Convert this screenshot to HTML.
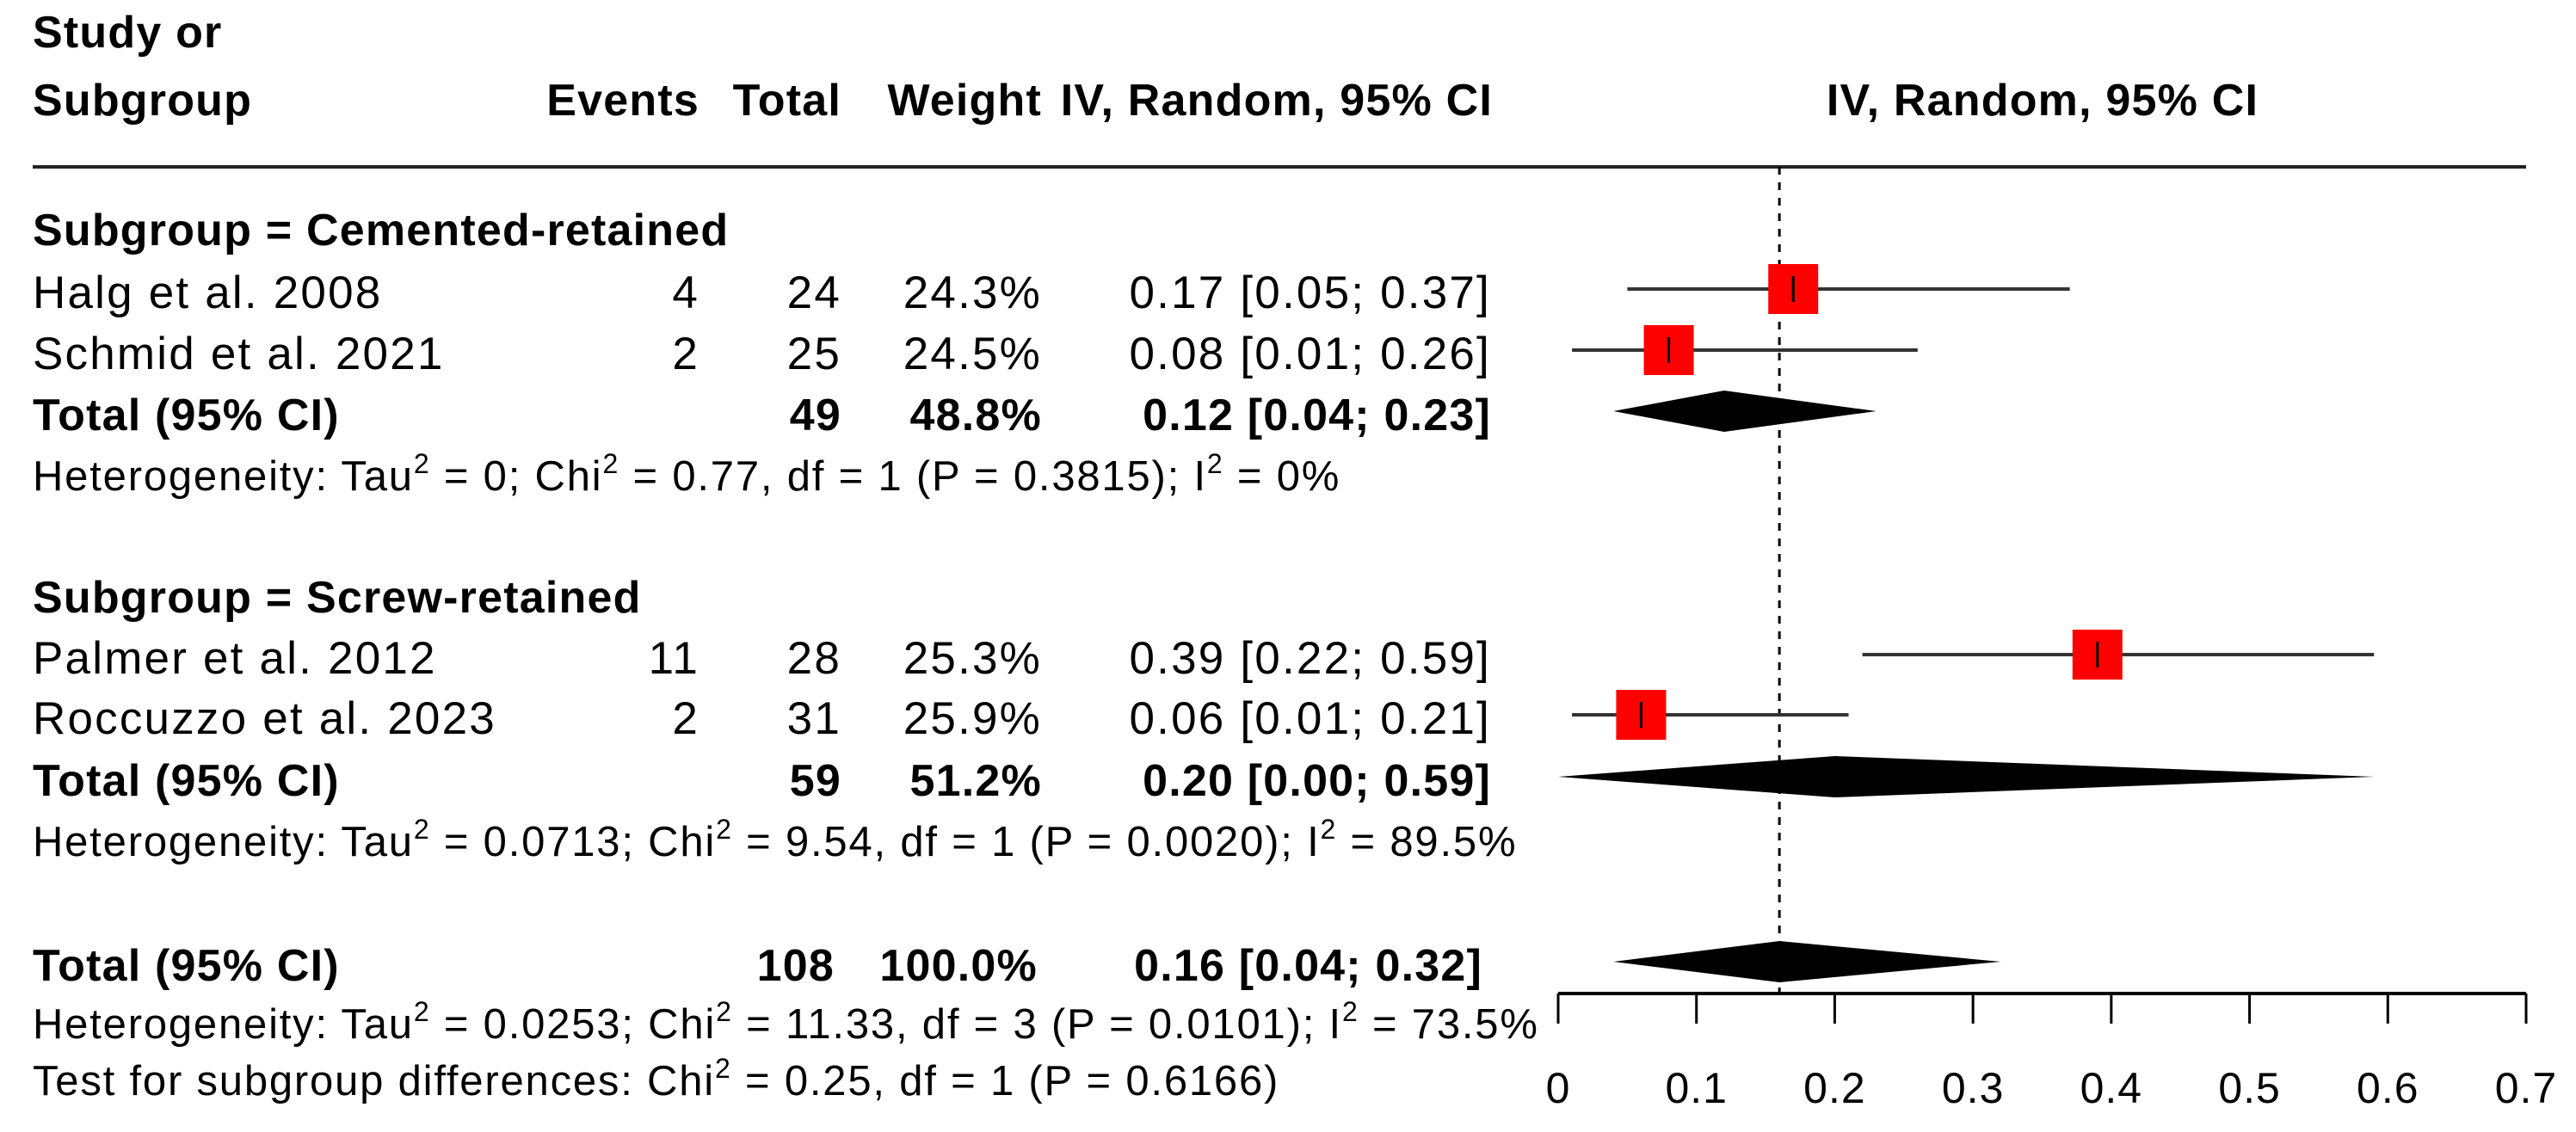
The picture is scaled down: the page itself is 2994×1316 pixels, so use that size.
<!DOCTYPE html>
<html><head><meta charset="utf-8"><style>
html,body{margin:0;padding:0;background:#fff}
svg{display:block}
text{font-family:"Liberation Sans",Arial,sans-serif;font-size:53px;letter-spacing:2.2px;fill:#000}
.b{font-weight:bold;font-size:52px;letter-spacing:1.2px}
.s{font-size:49px;letter-spacing:1.8px}
.t{font-size:50px;letter-spacing:1px}
</style></head><body>
<svg id="chart" width="2994" height="1316" viewBox="0 0 2994 1316" xmlns="http://www.w3.org/2000/svg">
<g>
<text class="b" x="38" y="55">Study or</text>
<text class="b" x="38" y="134">Subgroup</text>
<text class="b" x="813" y="134" text-anchor="end">Events</text>
<text class="b" x="978" y="134" text-anchor="end">Total</text>
<text class="b" x="1211" y="134" text-anchor="end">Weight</text>
<text class="b" x="1735" y="134" text-anchor="end">IV, Random, 95% CI</text>
<text class="b" x="2374" y="134" text-anchor="middle">IV, Random, 95% CI</text>
</g>
<line x1="38" y1="194" x2="2936" y2="194" stroke="#222" stroke-width="4"/>
<g id="rows"></g>
<g id="plot"></g>
</svg>
<script>
const studies=["Halg et al. 2008","Schmid et al. 2021","Palmer et al. 2012","Roccuzzo et al. 2023"];
const events=[4,2,11,2];
const totals=[24,25,28,31];
const weights=["24.3%","24.5%","25.3%","25.9%"];
const est=[0.17,0.08,0.39,0.06];
const lower=[0.05,0.01,0.22,0.01];
const upper=[0.37,0.26,0.59,0.21];
const pooledLabels=["Total (95% CI)","Total (95% CI)","Total (95% CI)"];
const pooledN=[49,59,108];
const pooledW=["48.8%","51.2%","100.0%"];
const pooledEst=[0.12,0.20,0.16];
const pooledLo=[0.04,0.00,0.04];
const pooledHi=[0.23,0.59,0.32];
const ticks=[0,0.1,0.2,0.3,0.4,0.5,0.6,0.7];
const overallEst=0.16;
const NS="http://www.w3.org/2000/svg";
const X0=1811,X1=2936,DMIN=0,DMAX=0.7;
function xs(v){return X0+(v-DMIN)/(DMAX-DMIN)*(X1-X0);}
function f2(v){return v.toFixed(2);}
function mk(tag,attrs,parent,txt){const e=document.createElementNS(NS,tag);for(const k in attrs)e.setAttribute(k,attrs[k]);if(txt!==undefined)e.textContent=txt;parent.appendChild(e);return e;}
const rows=document.getElementById('rows'),plot=document.getElementById('plot');
const studyY=[358,429,783,853];
const pooledY=[500,925,1140];
let dl=mk('line',{x1:xs(overallEst),x2:xs(overallEst),y1:194,y2:1155,stroke:'#000','stroke-width':3,'stroke-dasharray':'9,9'},plot);


function txt(x,y,s,cls,anchor,name,parent){const t=mk('text',{x:x,y:y,'text-anchor':anchor||'start'},parent||rows);if(cls)t.setAttribute('class',cls);t.innerHTML=s;return t;}
txt(38,285,'Subgroup = Cemented-retained','b','start','subgroup-cemented-label');
txt(38,712,'Subgroup = Screw-retained','b','start','subgroup-screw-label');
for(let i=0;i<studies.length;i++){
  const y=studyY[i];
  txt(38,y,studies[i],null,'start','study-name');
  txt(813,y,events[i],null,'end','events-value');
  txt(978,y,totals[i],null,'end','total-value');
  txt(1211,y,weights[i],null,'end','weight-value');
  txt(1733,y,f2(est[i])+' ['+f2(lower[i])+'; '+f2(upper[i])+']',null,'end','ci-value');
  const cy=y-22;
  const l=mk('line',{x1:xs(lower[i]),x2:xs(upper[i]),y1:cy,y2:cy,stroke:'#333','stroke-width':4},plot);
  
  
  const r=mk('rect',{x:xs(est[i])-29,y:cy-29,width:58,height:58,fill:'#ff0000'},plot);
  
  
  const c=mk('line',{x1:xs(est[i]),x2:xs(est[i]),y1:cy-15,y2:cy+15,stroke:'#000','stroke-width':3},plot);
  
  
}
for(let j=0;j<3;j++){
  const y=pooledY[j];
  txt(38,y,pooledLabels[j],'b','start','pooled-label');
  txt(j==2?970:978,y,pooledN[j],'b','end','pooled-total');
  txt(j==2?1206:1211,y,pooledW[j],'b','end','pooled-weight');
  txt(j==2?1723:1733,y,f2(pooledEst[j])+' ['+f2(pooledLo[j])+'; '+f2(pooledHi[j])+']','b','end','pooled-ci');
  const cy=y-22;
  const p=mk('polygon',{points:`${xs(pooledLo[j])},${cy} ${xs(pooledEst[j])},${cy-24} ${xs(pooledHi[j])},${cy} ${xs(pooledEst[j])},${cy+24}`,fill:'#000'},plot);
  
  
}
const sup='<tspan dy="-20" font-size="32">2</tspan>';
txt(38,570,'Heterogeneity: Tau'+sup+'<tspan dy="20"> = 0; Chi</tspan>'+sup+'<tspan dy="20"> = 0.77, df = 1 (P = 0.3815); I</tspan>'+sup+'<tspan dy="20"> = 0%</tspan>','s','start','heterogeneity-cemented');
txt(38,995,'Heterogeneity: Tau'+sup+'<tspan dy="20"> = 0.0713; Chi</tspan>'+sup+'<tspan dy="20"> = 9.54, df = 1 (P = 0.0020); I</tspan>'+sup+'<tspan dy="20"> = 89.5%</tspan>','s','start','heterogeneity-screw');
txt(38,1207,'Heterogeneity: Tau'+sup+'<tspan dy="20"> = 0.0253; Chi</tspan>'+sup+'<tspan dy="20"> = 11.33, df = 3 (P = 0.0101); I</tspan>'+sup+'<tspan dy="20"> = 73.5%</tspan>','s','start','heterogeneity-overall');
txt(38,1273,'Test for subgroup differences: Chi'+sup+'<tspan dy="20"> = 0.25, df = 1 (P = 0.6166)</tspan>','s','start','subgroup-test');
const ax=mk('line',{x1:xs(ticks[0]),x2:xs(ticks[ticks.length-1]),y1:1155,y2:1155,stroke:'#000','stroke-width':4},plot);


ticks.forEach(t=>{
  const tl=mk('line',{x1:xs(t),x2:xs(t),y1:1155,y2:1190,stroke:'#000','stroke-width':3},plot);
  
  
  const lb=mk('text',{x:xs(t),y:1282,'text-anchor':'middle','class':'t'},plot,String(t));
  
  
});
</script>
</body></html>
